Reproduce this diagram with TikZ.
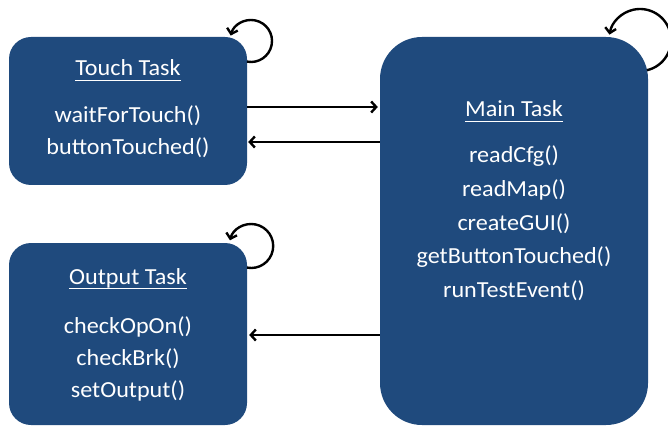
\documentclass[tikz,border=0pt]{standalone}
\usepackage{fontspec}
\setmainfont[FakeStretch=1.05]{Carlito}
\usetikzlibrary{arrows.meta}
\definecolor{taskblue}{RGB}{31,74,125}
\tikzset{
  x=1pt, y=1pt,
  taskbox/.style={fill=taskblue, draw=none, inner sep=0pt},
  tasktext/.style={text=white, inner sep=0pt, anchor=base, font=\fontsize{23}{27}\selectfont},
  flow/.style={draw=black, line width=2.4pt, -{Straight Barb[length=5pt,width=11pt,line width=2.4pt]}},
  uline/.style={draw=white, line width=1.4pt},
}
\begin{document}
\begin{tikzpicture}
\useasboundingbox (0,0) rectangle (668,426);

% task boxes
\node[taskbox, minimum width=238pt, minimum height=148pt, rounded corners=22pt] (touch) at (128,315) {};
\node[taskbox, minimum width=268pt, minimum height=388pt, rounded corners=42pt] (main) at (514,195) {};
\node[taskbox, minimum width=238pt, minimum height=182pt, rounded corners=22pt] (output) at (128,92) {};

% Touch Task
\node[tasktext] (tt) at (128,350) {Touch Task};
\node[tasktext] (t1) at (128,303) {waitForTouch()};
\node[tasktext] (t2) at (128,271) {buttonTouched()};

% Main Task
\node[tasktext] (mt) at (514,309) {Main Task};
\node[tasktext] (m1) at (514,263) {readCfg()};
\node[tasktext] (m2) at (514,229.5) {readMap()};
\node[tasktext] (m3) at (514,196) {createGUI()};
\node[tasktext] (m4) at (514,162.5) {getButtonTouched()};
\node[tasktext] (m5) at (514,129) {runTestEvent()};

% Output Task
\node[tasktext] (ot) at (128,142) {Output Task};
\node[tasktext] (o1) at (128,93) {checkOpOn()};
\node[tasktext] (o2) at (128,61) {checkBrk()};
\node[tasktext] (o3) at (128,29) {setOutput()};

% underlined titles
\foreach \t in {tt,mt,ot}
  \draw[uline] ([yshift=-4.5pt]\t.base west) -- ([yshift=-4.5pt]\t.base east);

% messages between tasks
\draw[flow, shorten >=2pt] ([yshift=4pt]touch.east) -- ([yshift=4pt]touch.east -| main.west);
\draw[flow, shorten >=1pt] ([yshift=-31pt]touch.east -| main.west) -- ([yshift=-31pt]touch.east);
\draw[flow, shorten >=2pt] ([yshift=-1pt]output.east -| main.west) -- ([yshift=-1pt]output.east);

% self loops
\coordinate (tl) at (247,364.4);
\coordinate (ol) at (247,158.4);
\coordinate (ml) at (647,355.8);
\draw[flow] (tl) arc[start angle=-101, end angle=165, radius=21];
\draw[flow] (ol) arc[start angle=-101, end angle=165, radius=22];
\draw[flow] (ml) arc[start angle=-77, end angle=170, radius=31];
\end{tikzpicture}
\end{document}
